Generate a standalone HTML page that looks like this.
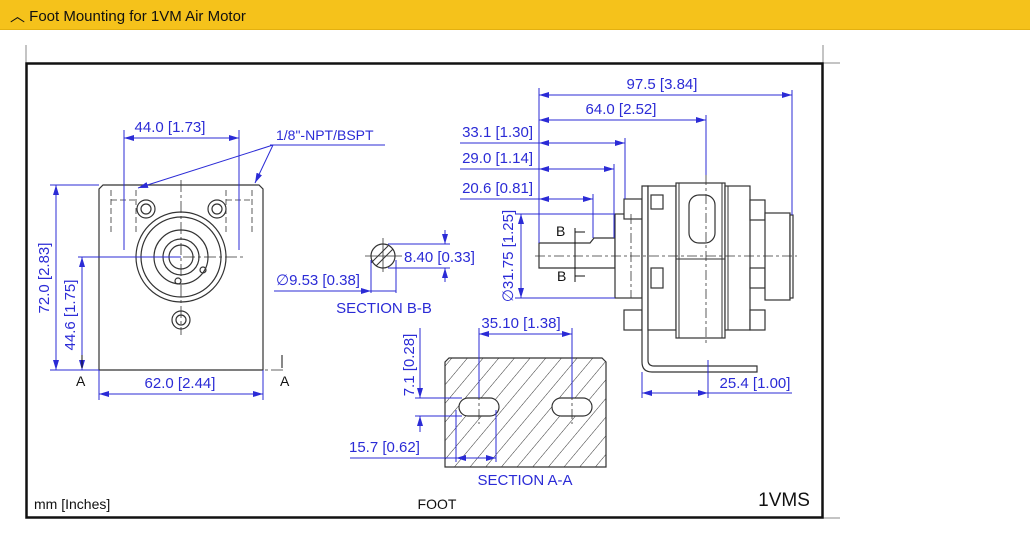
<!DOCTYPE html>
<html><head><meta charset="utf-8"><style>
body{margin:0;width:1030px;height:537px;background:#fff;overflow:hidden;font-family:"Liberation Sans",sans-serif}
.hdr{position:absolute;left:0;top:0;width:1030px;height:29px;background:#f5c21b;border-bottom:1px solid #e3b010}
.hdr span{position:absolute;left:10px;top:5px;font-size:15px;color:#111}
svg{position:absolute;left:0;top:0}
</style></head><body>
<div class="hdr"><span>︿ Foot Mounting for 1VM Air Motor</span></div>
<svg width="1030" height="537" viewBox="0 0 1030 537" font-family="Liberation Sans, sans-serif">
<defs>
<marker id="a" viewBox="0 0 10 6" refX="10" refY="3" markerWidth="10" markerHeight="6" orient="auto-start-reverse" markerUnits="userSpaceOnUse"><path d="M0,0L10,3L0,6z" fill="#2b2bd6"/></marker>
<pattern id="h" width="12" height="12" patternUnits="userSpaceOnUse" patternTransform="rotate(40)"><line x1="0" y1="0" x2="0" y2="12" stroke="#333" stroke-width="1"/></pattern>
</defs>
<g stroke="#888" stroke-width="1"><line x1="26" y1="45" x2="26" y2="63"/><line x1="823" y1="45" x2="823" y2="63"/><line x1="823" y1="63" x2="840" y2="63"/><line x1="823" y1="518" x2="840" y2="518"/></g>
<rect x="26.5" y="63.5" width="796" height="454" fill="none" stroke="#111" stroke-width="2.5"/>

<!-- left view -->
<g fill="none" stroke="#333" stroke-width="1.2">
<path d="M103,185H259L263,189V370H99V189Z"/>
<circle cx="181" cy="257" r="45"/><circle cx="181" cy="257" r="40"/>
<circle cx="181" cy="257" r="27"/><circle cx="181" cy="257" r="18"/><circle cx="181" cy="257" r="12"/>
<circle cx="146" cy="209" r="9"/><circle cx="146" cy="209" r="5"/>
<circle cx="217" cy="209" r="9"/><circle cx="217" cy="209" r="5"/>
<circle cx="181" cy="320" r="9"/><circle cx="181" cy="320" r="5"/>
<circle cx="203" cy="270" r="3"/><circle cx="178" cy="281" r="3"/>
</g>
<g fill="none" stroke="#333" stroke-width="0.8" stroke-dasharray="6,3">
<line x1="111" y1="190" x2="111" y2="235"/><line x1="136" y1="190" x2="136" y2="235"/>
<line x1="226" y1="190" x2="226" y2="235"/><line x1="252" y1="190" x2="252" y2="235"/>
<line x1="111" y1="200" x2="136" y2="200"/><line x1="226" y1="200" x2="252" y2="200"/>
</g>
<g stroke="#333" stroke-width="0.8" stroke-dasharray="12,3,3,3">
<line x1="181" y1="180" x2="181" y2="335"/><line x1="120" y1="257" x2="245" y2="257"/>
<line x1="82" y1="370" x2="285" y2="370"/>
</g>
<g stroke="#2b2bd6" stroke-width="1" fill="none">
<line x1="124" y1="130" x2="124" y2="250"/><line x1="239" y1="130" x2="239" y2="250"/>
<line x1="124" y1="138" x2="239" y2="138" marker-start="url(#a)" marker-end="url(#a)"/>
<line x1="50" y1="185" x2="99" y2="185"/><line x1="50" y1="370" x2="99" y2="370"/>
<line x1="56" y1="185" x2="56" y2="370" marker-start="url(#a)" marker-end="url(#a)"/>
<line x1="78" y1="257" x2="181" y2="257"/>
<line x1="82" y1="257" x2="82" y2="370" marker-start="url(#a)" marker-end="url(#a)"/>
<line x1="99" y1="370" x2="99" y2="400"/><line x1="263" y1="370" x2="263" y2="400"/>
<line x1="99" y1="394" x2="263" y2="394" marker-start="url(#a)" marker-end="url(#a)"/>
<line x1="273" y1="145" x2="138" y2="188" marker-end="url(#a)"/>
<line x1="273" y1="145" x2="255" y2="183" marker-end="url(#a)"/>
<line x1="270" y1="145" x2="385" y2="145"/>
</g>
<g fill="#2b2bd6" font-size="15">
<text x="170" y="132" text-anchor="middle">44.0 [1.73]</text>
<text x="276" y="140" font-size="14">1/8"-NPT/BSPT</text>
<text x="180" y="388" text-anchor="middle">62.0 [2.44]</text>
<text transform="translate(49,278) rotate(-90)" text-anchor="middle">72.0 [2.83]</text>
<text transform="translate(75,315) rotate(-90)" text-anchor="middle">44.6 [1.75]</text>
</g>
<g font-size="14" fill="#111"><text x="76" y="386">A</text><text x="280" y="386">A</text>
<line x1="82" y1="355" x2="82" y2="368" stroke="#111"/><line x1="282" y1="355" x2="282" y2="368" stroke="#111"/></g>

<!-- section B-B -->
<circle cx="383" cy="256" r="12" fill="none" stroke="#333" stroke-width="1.2"/>
<line x1="376" y1="266" x2="393" y2="249" stroke="#333"/><line x1="371" y1="263" x2="388" y2="246" stroke="#333"/>
<g stroke="#333" stroke-width="0.8"><line x1="365" y1="256" x2="402" y2="256"/><line x1="383" y1="238" x2="383" y2="272"/></g>
<g stroke="#2b2bd6" fill="none">
<line x1="388" y1="244" x2="450" y2="244"/><line x1="388" y1="268" x2="450" y2="268"/>
<line x1="445" y1="230" x2="445" y2="244" marker-end="url(#a)"/><line x1="445" y1="282" x2="445" y2="268" marker-end="url(#a)"/>
<line x1="371" y1="260" x2="371" y2="293"/><line x1="396" y1="260" x2="396" y2="293"/>
<line x1="274" y1="291" x2="396" y2="291"/>
<line x1="360" y1="291" x2="371" y2="291" marker-end="url(#a)"/>
</g>
<g fill="#2b2bd6" font-size="15">
<text x="404" y="262">8.40 [0.33]</text>
<text x="276" y="285">∅9.53 [0.38]</text>
<text x="384" y="313" text-anchor="middle">SECTION B-B</text>
</g>

<!-- section A-A -->
<path d="M449,358H602L606,362V467H445V362Z" fill="url(#h)" stroke="#333" stroke-width="1.2"/>
<rect x="459" y="398" width="40" height="18" rx="9" fill="#fff" stroke="#333" stroke-width="1.2"/>
<rect x="552" y="398" width="40" height="18" rx="9" fill="#fff" stroke="#333" stroke-width="1.2"/>
<g stroke="#333" stroke-width="0.8" stroke-dasharray="10,3,3,3"><line x1="479" y1="390" x2="479" y2="424"/><line x1="572" y1="390" x2="572" y2="424"/></g>
<g stroke="#2b2bd6" fill="none">
<line x1="479" y1="328" x2="479" y2="398"/><line x1="572" y1="328" x2="572" y2="398"/>
<line x1="479" y1="334" x2="572" y2="334" marker-start="url(#a)" marker-end="url(#a)"/>
<line x1="415" y1="398" x2="462" y2="398"/><line x1="415" y1="416" x2="462" y2="416"/>
<line x1="420" y1="328" x2="420" y2="398" marker-end="url(#a)"/><line x1="420" y1="432" x2="420" y2="416" marker-end="url(#a)"/>
<line x1="456" y1="410" x2="456" y2="462"/><line x1="496" y1="410" x2="496" y2="462"/>
<line x1="350" y1="458" x2="456" y2="458"/>
<line x1="456" y1="458" x2="496" y2="458" marker-start="url(#a)" marker-end="url(#a)"/>
</g>
<g fill="#2b2bd6" font-size="15">
<text x="521" y="328" text-anchor="middle">35.10 [1.38]</text>
<text transform="translate(414,365) rotate(-90)" text-anchor="middle">7.1 [0.28]</text>
<text x="349" y="452">15.7 [0.62]</text>
<text x="525" y="485" text-anchor="middle">SECTION A-A</text>
</g>

<!-- right view -->
<g fill="#fff" stroke="#333" stroke-width="1.2">
<path d="M539,243H590L594,238H615V268H539Z"/>
<rect x="615" y="214" width="27" height="84"/>
<rect x="624" y="199" width="18" height="20"/><rect x="624" y="310" width="18" height="20"/>
<path d="M642,186H648V360Q648,366 654,366H757V372H652Q642,372 642,362Z"/>
<rect x="648" y="186" width="28" height="144"/>
<rect x="676" y="183" width="49" height="155"/>
<rect x="725" y="186" width="25" height="144"/>
<rect x="750" y="200" width="15" height="20"/><rect x="750" y="268" width="15" height="20"/><rect x="750" y="310" width="15" height="20"/>
<rect x="765" y="213" width="25" height="87"/>
<rect x="790" y="215" width="3" height="83"/>
<rect x="689" y="195" width="26" height="48" rx="10"/>
<rect x="651" y="195" width="12" height="14"/><rect x="651" y="268" width="12" height="20"/>
</g>
<g stroke="#333" stroke-width="1"><line x1="676" y1="259" x2="725" y2="259"/><line x1="679" y1="183" x2="679" y2="338"/><line x1="722" y1="183" x2="722" y2="338"/><line x1="728" y1="186" x2="728" y2="330"/></g>
<g stroke="#333" stroke-width="0.8" stroke-dasharray="10,3,3,3">
<line x1="535" y1="256" x2="797" y2="256"/><line x1="631" y1="214" x2="631" y2="298"/><line x1="706" y1="175" x2="706" y2="345"/>
</g>
<g stroke="#111"><line x1="575" y1="228" x2="575" y2="282"/>
<line x1="575" y1="232" x2="585" y2="232"/><line x1="575" y1="276" x2="585" y2="276"/></g>
<g font-size="14" fill="#111"><text x="556" y="236">B</text><text x="557" y="281">B</text></g>
<g stroke="#2b2bd6" fill="none">
<line x1="539" y1="88" x2="539" y2="243"/>
<line x1="792" y1="90" x2="792" y2="215"/>
<line x1="539" y1="95" x2="792" y2="95" marker-start="url(#a)" marker-end="url(#a)"/>
<line x1="706" y1="115" x2="706" y2="175"/>
<line x1="539" y1="120" x2="706" y2="120" marker-start="url(#a)" marker-end="url(#a)"/>
<line x1="625" y1="138" x2="625" y2="199"/>
<line x1="460" y1="143" x2="625" y2="143" marker-end="url(#a)"/>
<line x1="539" y1="143" x2="550" y2="143" marker-start="url(#a)"/>
<line x1="614" y1="164" x2="614" y2="238"/>
<line x1="460" y1="169" x2="614" y2="169" marker-end="url(#a)"/>
<line x1="539" y1="169" x2="550" y2="169" marker-start="url(#a)"/>
<line x1="593" y1="194" x2="593" y2="238"/>
<line x1="460" y1="199" x2="593" y2="199" marker-end="url(#a)"/>
<line x1="539" y1="199" x2="550" y2="199" marker-start="url(#a)"/>
<line x1="515" y1="214" x2="615" y2="214"/><line x1="515" y1="298" x2="615" y2="298"/>
<line x1="521" y1="214" x2="521" y2="298" marker-start="url(#a)" marker-end="url(#a)"/>
<line x1="642" y1="372" x2="642" y2="398"/><line x1="708" y1="360" x2="708" y2="398"/>
<line x1="642" y1="393" x2="708" y2="393" marker-start="url(#a)" marker-end="url(#a)"/>
<line x1="708" y1="393" x2="792" y2="393"/>
</g>
<g fill="#2b2bd6" font-size="15">
<text x="662" y="89" text-anchor="middle">97.5 [3.84]</text>
<text x="621" y="114" text-anchor="middle">64.0 [2.52]</text>
<text x="533" y="137" text-anchor="end">33.1 [1.30]</text>
<text x="533" y="163" text-anchor="end">29.0 [1.14]</text>
<text x="533" y="193" text-anchor="end">20.6 [0.81]</text>
<text transform="translate(513,256) rotate(-90)" text-anchor="middle">∅31.75 [1.25]</text>
<text x="755" y="388" text-anchor="middle">25.4 [1.00]</text>
</g>
<g fill="#111"><text x="34" y="509" font-size="14">mm [Inches]</text><text x="437" y="509" font-size="14" text-anchor="middle">FOOT</text><text x="784" y="506" font-size="19" text-anchor="middle">1VMS</text></g>
</svg>
</body></html>
